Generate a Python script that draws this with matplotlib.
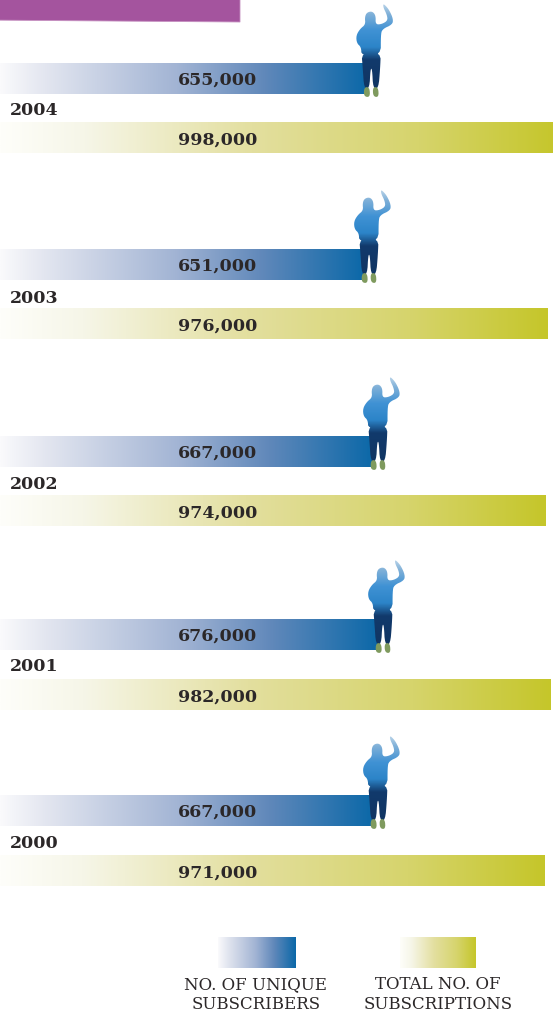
import numpy as np
import matplotlib
matplotlib.use("Agg")
import matplotlib.pyplot as plt
from matplotlib.colors import LinearSegmentedColormap
from matplotlib.patches import Polygon, PathPatch
from matplotlib.path import Path

years = ["2004", "2003", "2002", "2001", "2000"]
unique_subscribers = [655000, 651000, 667000, 676000, 667000]
total_subscriptions = [998000, 976000, 974000, 982000, 971000]
legend_labels = ["NO. OF UNIQUE\nSUBSCRIBERS", "TOTAL NO. OF\nSUBSCRIPTIONS"]

W, H = 553, 1011
PX_PER_UNIT = 0.5605 / 1000
SERIF = ["DejaVu Serif"]
INK = "#2b2728"

# Vertical layout of each year's pair of bars, in pixels from the top
blue_tops = [63, 249, 436, 619, 795]
gold_tops = [122, 308, 495, 679, 855]
year_centres = [110.5, 298.5, 484.5, 666.5, 843.5]
BAR_H = 31

blue_cmap = LinearSegmentedColormap.from_list(
    "blues", [(0, "#fafafc"), (0.12, "#e3e6f0"), (0.48, "#a2b4d4"),
              (0.72, "#6088ba"), (1, "#0b68a8")])
gold_cmap = LinearSegmentedColormap.from_list(
    "golds", [(0, "#fefefa"), (0.15, "#f6f6e8"), (0.45, "#e3df9f"),
              (0.75, "#d6d46c"), (1, "#c5c62a")])
person_cmap = LinearSegmentedColormap.from_list(
    "person", [(0, "#cfe0ef"), (0.14, "#7fb0d8"), (0.3, "#4092d4"),
               (0.47, "#2c84c8"), (0.6, "#123a6c"), (1, "#10335f")])
ramp = np.linspace(0, 1, 256).reshape(1, -1)

fig = plt.figure(figsize=(W / 100, H / 100), dpi=100)
ax = fig.add_axes([0, 0, 1, 1])
ax.set_xlim(0, W / PX_PER_UNIT)
ax.set_ylim(H, 0)
ax.axis("off")
to_units = 1 / PX_PER_UNIT


def gradient_bar(value, top, cmap):
    ax.imshow(ramp, cmap=cmap, extent=(0, value, top + BAR_H, top),
              aspect="auto", interpolation="bilinear", zorder=2)


def smooth(points, rounds=2):
    """Corner-cutting so the outline reads as a rounded silhouette."""
    p = np.asarray(points, float)
    for _ in range(rounds):
        q = np.roll(p, -1, axis=0)
        p = np.column_stack([0.75 * p + 0.25 * q, 0.25 * p + 0.75 * q]).reshape(-1, 2)
    return p


def figure_at(value, top):
    """Standing person with a raised arm, anchored to the bar's end."""
    def place(pts):
        p = np.asarray(pts, float)
        x = value + (p[:, 0] / 3 - 27) * to_units
        y = top + p[:, 1] / 3 - 62.5
        return np.column_stack([x, y])

    upper = [(129, 10), (137, 16), (148, 30), (159, 55), (157, 72), (126, 86), (122, 105),
             (122, 165), (64, 165), (63, 140), (50, 128), (48, 105), (60, 85),
             (76, 72), (74, 50), (80, 36), (96, 32), (107, 45), (106, 72), (125, 71),
             (143, 60), (140, 42), (130, 22)]
    legs = [(64, 155), (122, 155), (120, 205), (115, 264), (99, 264), (96, 205),
            (91, 205), (88, 264), (72, 264), (68, 205)]
    shoes = [[(72, 260), (88, 260), (90, 290), (71, 288)],
             [(98, 260), (114, 260), (116, 290), (99, 288)]]

    y0, y1 = top - 63, top - 63 + 100
    x0, x1 = value - 28 * to_units, value + 32 * to_units
    body = ax.imshow(np.linspace(0, 1, 200).reshape(-1, 1), cmap=person_cmap,
                     extent=(x0, x1, y1, y0), aspect="auto", zorder=3)
    verts, codes = [], []
    for shape in (upper, legs):
        pts = place(smooth(shape))
        verts += list(pts) + [pts[0]]
        codes += [Path.MOVETO] + [Path.LINETO] * (len(pts) - 1) + [Path.CLOSEPOLY]
    body.set_clip_path(PathPatch(Path(verts, codes), transform=ax.transData))
    for shoe in shoes:
        ax.add_patch(Polygon(place(smooth(shoe)), closed=True, fc="#7f9a5e", ec="none", zorder=4))


# Purple header tab, running off the top and left edges
ax.add_patch(Polygon([(-20 * to_units, -5), (240 * to_units, -5), (240 * to_units, 22),
                      (-20 * to_units, 20)],
                     closed=True, fc="#a4549e", ec="#c58fc0", lw=0.6, zorder=1))

for year, uniq, total, bt, gt, yc in zip(years, unique_subscribers, total_subscriptions,
                                         blue_tops, gold_tops, year_centres):
    gradient_bar(uniq, bt, blue_cmap)
    gradient_bar(total, gt, gold_cmap)
    figure_at(uniq, bt)
    for value, top, offset in ((uniq, bt, 2.0), (total, gt, 3.0)):
        ax.text(257 * to_units, top + BAR_H / 2 + offset, f"{value:,}", ha="right", va="center",
                family=SERIF, weight="bold", fontsize=12.5, color=INK, zorder=5)
    ax.text(10 * to_units, yc, year, ha="left", va="center",
            family=SERIF, weight="bold", fontsize=12.5, color=INK, zorder=5)

# Colour key at the foot of the chart
for (x0, x1), cmap, label, cx in zip([(218, 295), (400, 476)], [blue_cmap, gold_cmap],
                                     legend_labels, [256, 438]):
    ax.imshow(ramp, cmap=cmap, extent=(x0 * to_units, x1 * to_units, 968, 937),
              aspect="auto", interpolation="bilinear", zorder=2)
    ax.text(cx * to_units, 976, label, ha="center", va="top", family=SERIF,
            fontsize=12, color=INK, linespacing=1.2, zorder=5)

ax.set_xlim(0, W / PX_PER_UNIT)
ax.set_ylim(H, 0)
fig.savefig("out.png", dpi=100)
